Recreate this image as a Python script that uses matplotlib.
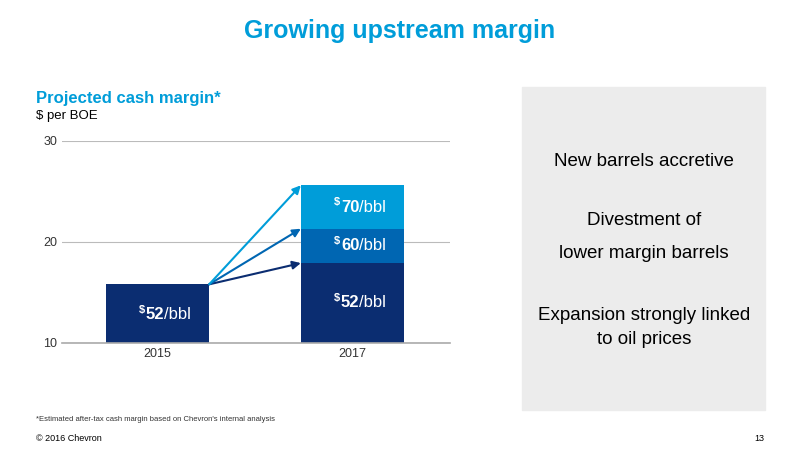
import matplotlib
matplotlib.use("Agg")
import matplotlib.pyplot as plt
from matplotlib.patches import Rectangle
plt.rcParams['font.family'] = ['Liberation Sans', 'DejaVu Sans']

years = ["2015", "2017"]
base_vals = [15.8, 17.9]
mid_val = 3.4
top_val = 4.3
labels_2015 = "52"
labels_2017 = ["52", "60", "70"]
yticks = [10, 20, 30]

navy = "#0b2d71"; mid = "#0066b2"; light = "#009dd9"
fig = plt.figure(figsize=(8, 4.5), dpi=100)
fig.text(0.5, 0.915, "Growing upstream margin", ha="center", color=light, fontsize=18, fontweight="bold")
fig.text(0.045, 0.77, "Projected cash margin*", color=light, fontsize=12, fontweight="bold")
fig.text(0.045, 0.735, "$ per BOE", color="black", fontsize=9.5)
fig.text(0.045, 0.065, "*Estimated after-tax cash margin based on Chevron's internal analysis", fontsize=5.5, color="#333333")
fig.text(0.045, 0.02, "© 2016 Chevron", fontsize=6.5)
fig.text(0.955, 0.02, "13", fontsize=6.5, ha="right")

fig.patches.append(Rectangle((0.6525, 0.089), 0.304, 0.718, transform=fig.transFigure, color="#ececec", zorder=0))
for ypx, t in [(162, "New barrels accretive"), (220, "Divestment of"), (254, "lower margin barrels"),
               (316, "Expansion strongly linked"), (340, "to oil prices")]:
    fig.text(0.805, 1 - ypx / 450, t, ha="center", va="center", fontsize=13.5)

ax = fig.add_axes([0.0775, 0.238, 0.485, 0.449])
ax.set_xlim(-0.49, 1.5); ax.set_ylim(10, 30)
for s in ax.spines.values(): s.set_visible(False)
ax.set_yticks(yticks); ax.set_xticks([0, 1]); ax.set_xticklabels(years)
ax.tick_params(length=0, labelsize=9, colors="#333333")
ax.grid(axis="y", color="#bbbbbb", lw=0.8); ax.set_axisbelow(True)
w = 0.53
ax.bar(0, base_vals[0] - 10, w, bottom=10, color=navy)
ax.bar(1, base_vals[1] - 10, w, bottom=10, color=navy)
ax.bar(1, mid_val, w, bottom=base_vals[1], color=mid)
ax.bar(1, top_val, w, bottom=base_vals[1] + mid_val, color=light)
ax.axhline(10, color="#aaaaaa", lw=1.2, zorder=5, clip_on=False)
def lab2(x, y, v):
    ax.text(x - 0.065, y + 0.45, "$", ha="right", va="center", color="white", fontsize=8, fontweight="bold")
    ax.text(x + 0.035, y, v, ha="right", va="center", color="white", fontsize=12, fontweight="bold")
    ax.text(x + 0.035, y, "/bbl", ha="left", va="center", color="white", fontsize=12)
lab2(0, 12.8, labels_2015)
lab2(1, 14.0, labels_2017[0])
lab2(1, base_vals[1] + mid_val / 2, labels_2017[1])
lab2(1, base_vals[1] + mid_val + top_val / 2, labels_2017[2])
x0 = w / 2
for yy, c in [(base_vals[1], navy), (base_vals[1] + mid_val, mid), (base_vals[1] + mid_val + top_val, light)]:
    ax.annotate("", xy=(1 - w / 2, yy), xytext=(x0, base_vals[0]),
                arrowprops=dict(arrowstyle="-|>", color=c, lw=1.5, shrinkA=0, shrinkB=0, mutation_scale=12))
fig.savefig("out.png", dpi=100)
